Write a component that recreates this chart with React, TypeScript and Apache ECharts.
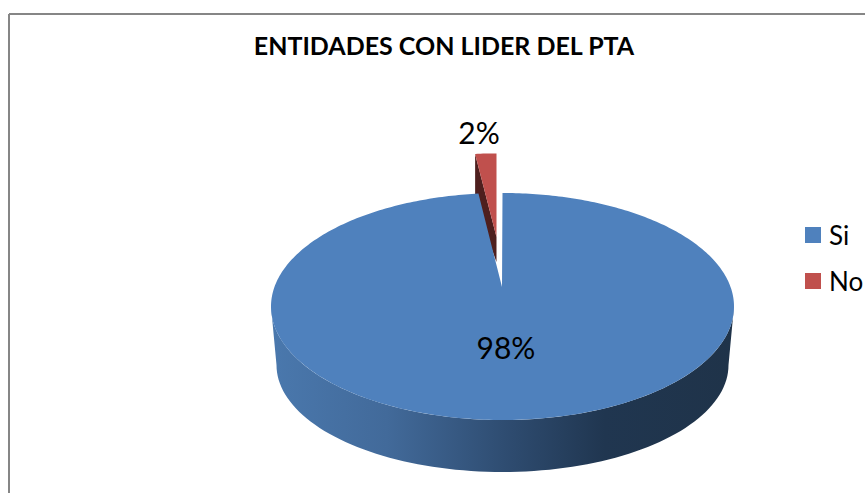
import React, { useEffect, useRef } from "react";
import * as echarts from "echarts";

const TITLE = "ENTIDADES CON LIDER DEL PTA";
const categories = ["Si", "No"];
const values = [98, 2];
const sliceColors = ["#4f81bd", "#c0504d"];

const FONT = "Lato, 'Open Sans', sans-serif";
const total = values.reduce((a, b) => a + b, 0);

const topFace = { cx: 502.5, cy: 306.5, rx: 231.5, ry: 113.5, apexX: 502, apexY: 287 };
const redFace = { cx: 496.5, cy: 254.4, rx: 206, ry: 101, apexX: 496.5, apexY: 237 };
const baseFace = { cx: 502.5, cy: 365, rx: 226, ry: 107 };

function rimPoint(f: any, deg: number) {
  const th = (deg * Math.PI) / 180;
  const a = (f.cy - f.apexY) / f.ry;
  const c = Math.cos(th);
  const s = Math.sin(th);
  const t = -a * c + Math.sqrt(a * a * c * c + 1 - a * a);
  return [f.cx + f.rx * t * s, f.cy + f.ry * (-a - t * c)];
}

function wedge(f: any, d0: number, d1: number) {
  const pts: number[][] = [[f.apexX, f.apexY]];
  const n = Math.max(2, Math.ceil(d1 - d0));
  for (let i = 0; i <= n; i++) pts.push(rimPoint(f, d0 + ((d1 - d0) * i) / n));
  return pts;
}

function sideWall() {
  const pts: number[][] = [];
  for (let a = 180; a >= 0; a -= 2) {
    const r = (a * Math.PI) / 180;
    pts.push([topFace.cx + topFace.rx * Math.cos(r), topFace.cy + topFace.ry * Math.sin(r)]);
  }
  for (let a = 0; a <= 180; a += 2) {
    const r = (a * Math.PI) / 180;
    pts.push([baseFace.cx + baseFace.rx * Math.cos(r), baseFace.cy + baseFace.ry * Math.sin(r)]);
  }
  return pts;
}

function pctText(v: number) {
  return `${Math.round((v / total) * 100)}%`;
}

function renderSi(_p: any, api: any) {
  const v = api.value(0);
  const sweep = (v / total) * 360;
  return {
    type: "group",
    children: [
      {
        type: "polygon",
        shape: { points: sideWall() },
        style: {
          fill: new echarts.graphic.LinearGradient(0, 0, 1, 0, [
            { offset: 0, color: "#4a78ad" },
            { offset: 0.25, color: "#426a9a" },
            { offset: 0.5, color: "#2f4d72" },
            { offset: 0.72, color: "#203650" },
            { offset: 1, color: "#1f3349" },
          ]),
        },
      },
      { type: "polygon", shape: { points: wedge(topFace, 0, sweep) }, style: { fill: sliceColors[0] } },
      {
        type: "text",
        style: { text: pctText(v), x: 506, y: 347, fontSize: 30, fontFamily: FONT, fill: "#000", align: "center", verticalAlign: "middle" },
      },
    ],
  };
}

function renderNo(_p: any, api: any) {
  const v = api.value(0);
  const start = ((total - v) / total) * 360;
  const rim = rimPoint(redFace, start);
  const depthApex = 25;
  const depthRim = 50;
  return {
    type: "group",
    children: [
      {
        type: "polygon",
        shape: {
          points: [
            rim,
            [redFace.apexX, redFace.apexY],
            [redFace.apexX, redFace.apexY + depthApex],
            [rim[0], rim[1] + depthRim],
          ],
        },
        style: { fill: "#4e1f1e" },
      },
      { type: "polygon", shape: { points: wedge(redFace, start, 360) }, style: { fill: sliceColors[1] } },
      {
        type: "text",
        style: { text: pctText(v), x: 479, y: 132, fontSize: 30, fontFamily: FONT, fill: "#000", align: "center", verticalAlign: "middle" },
      },
    ],
  };
}

export default function App() {
  const ref = useRef<HTMLDivElement>(null);
  useEffect(() => {
    document.body.style.margin = "0";
    document.body.style.background = "#fff";
    const chart = echarts.init(ref.current!, undefined, { renderer: "svg" });
    chart.setOption({
      animation: false,
      backgroundColor: "#ffffff",
      title: {
        text: TITLE,
        left: 439,
        top: 27,
        textAlign: "center",
        textStyle: { fontFamily: FONT, fontSize: 25, fontWeight: "bold", color: "#000" },
      },
      legend: {
        data: categories,
        orient: "vertical",
        left: 805,
        top: 222,
        padding: 0,
        itemWidth: 16,
        itemHeight: 16,
        itemGap: 20,
        icon: "rect",
        selectedMode: false,
        textStyle: { fontFamily: FONT, fontSize: 26, color: "#000", padding: [0, 0, 0, 3] },
      },
      graphic: [
        { type: "line", silent: true, shape: { x1: 9, y1: 14, x2: 865, y2: 14 }, style: { stroke: "#868686", lineWidth: 2 } },
        { type: "line", silent: true, shape: { x1: 9, y1: 14, x2: 9, y2: 493 }, style: { stroke: "#868686", lineWidth: 2 } },
      ],
      series: [
        {
          type: "custom",
          name: categories[1],
          coordinateSystem: "none",
          itemStyle: { color: sliceColors[1] },
          renderItem: renderNo,
          data: [values[1]],
          z: 2,
        },
        {
          type: "custom",
          name: categories[0],
          coordinateSystem: "none",
          itemStyle: { color: sliceColors[0] },
          renderItem: renderSi,
          data: [values[0]],
          z: 3,
        },
      ],
    });
    return () => chart.dispose();
  }, []);
  return <div ref={ref} style={{ position: "fixed", left: 0, top: 0, width: 865, height: 493 }} />;
}
